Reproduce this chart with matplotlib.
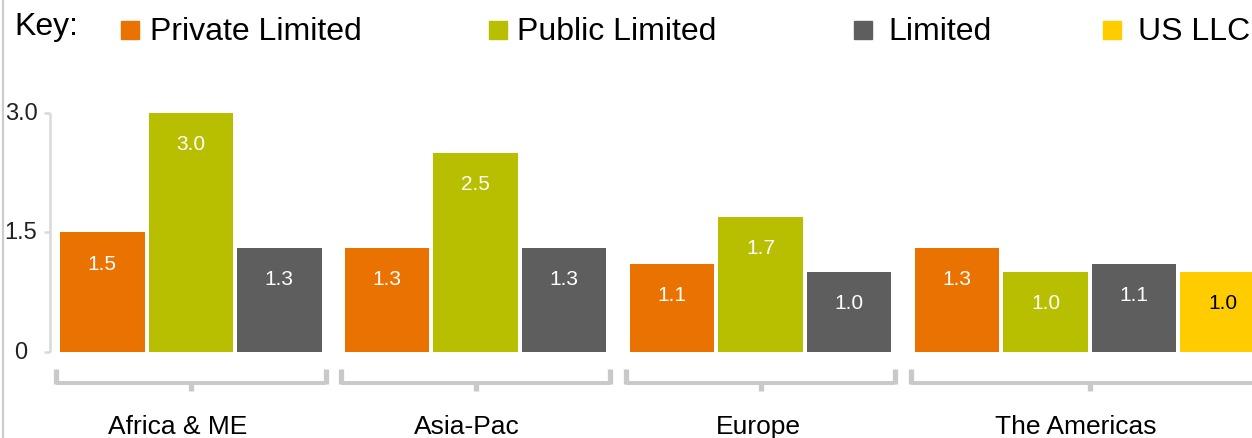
import matplotlib.pyplot as plt
from matplotlib.patches import Rectangle
from matplotlib.lines import Line2D

plt.rcParams['font.family'] = ['Liberation Sans', 'DejaVu Sans']

regions = ["Africa & ME", "Asia-Pac", "Europe", "The Americas"]
series = ["Private Limited", "Public Limited", "Limited", "US LLC"]
colors = ["#EA7200", "#B8BE00", "#5E5E5E", "#FFCC00"]
label_colors = ["white", "white", "white", "black"]

# one list per region, in the order of the series above
africa = [1.5, 3.0, 1.3]
asia_pac = [1.3, 2.5, 1.3]
europe = [1.1, 1.7, 1.0]
americas = [1.3, 1.0, 1.1, 1.0]
values = [africa, asia_pac, europe, americas]

yticks = [0, 1.5, 3.0]
ytick_labels = ["0", "1.5", "3.0"]

W, H = 1252, 439
fig = plt.figure(figsize=(W / 100, H / 100), dpi=100)
ax = fig.add_axes([0, 0, 1, 1])

# layout: one x unit is one bar slot
slot_px = 88.5
x0_px = 60
zero_px = 353
unit_px = 79.67
group_step = 3.22
bar_w = 0.955
label_shift_px = [-13, -9, -2.5, -14]  # region names sit a bit left of the bracket tick

ax.set_xlim(-x0_px / slot_px, (W - x0_px) / slot_px)
ax.set_ylim(-(H - zero_px) / unit_px, zero_px / unit_px)
ax.axis("off")


def xd(px):
    return (px - x0_px) / slot_px


def yd(px):
    return (zero_px - px) / unit_px


bracket_c = "#c9c9c9"
for g, vals in enumerate(values):
    lefts = [g * group_step + i for i in range(len(vals))]
    for i, v in enumerate(vals):
        ax.bar(lefts[i], v, width=bar_w, align="edge", color=colors[i], clip_on=True)
        ax.annotate(f"{v:.1f}", (lefts[i] + bar_w / 2, v), xytext=(0, -22),
                    textcoords="offset points", ha="center", va="center",
                    color=label_colors[i], fontsize=15)
    # bracket under each group
    l = lefts[0] - 0.045
    r = lefts[-1] + bar_w + 0.045
    c = (l + r) / 2
    ax.plot([l, r], [yd(383.5), yd(383.5)], color=bracket_c, lw=2.8, solid_capstyle="butt")
    ax.plot([l, l], [yd(370), yd(385)], color=bracket_c, lw=3.8, solid_capstyle="butt")
    ax.plot([r, r], [yd(370), yd(385)], color=bracket_c, lw=3.8, solid_capstyle="butt")
    ax.plot([c, c], [yd(385), yd(391.5)], color=bracket_c, lw=3.8, solid_capstyle="butt")
    ax.text(c + label_shift_px[g] / slot_px, yd(434), regions[g], ha="center",
            va="baseline", fontsize=19, color="black")

# y axis bracket
axis_c = "#d9d9d9"
ax.plot([xd(49.5), xd(49.5)], [0, 3.0], color=axis_c, lw=1.8, solid_capstyle="butt")
for t, lab in zip(yticks, ytick_labels):
    ax.plot([xd(44), xd(50)], [t, t], color=axis_c, lw=1.8, solid_capstyle="butt")
    ax.text(xd(21), t, lab, ha="center", va="center", fontsize=17, color="#222222")

# left border line
fig.add_artist(Line2D([3 / W, 3 / W], [0, 1], color="#cccccc", lw=1.6,
                      transform=fig.transFigure))

# legend ("Key")
fig.text(14 / W, 1 - 35 / H, "Key:", fontsize=23, va="baseline", ha="left")
sq_x = [121, 489, 854, 1103]
txt_x = [150, 517, 888, 1138]
for i, name in enumerate(series):
    fig.add_artist(Rectangle((sq_x[i] / W, 1 - 40 / H), 18 / W, 18 / H,
                             color=colors[i], transform=fig.transFigure))
    fig.text(txt_x[i] / W, 1 - 39.5 / H, name, fontsize=23, va="baseline", ha="left")

fig.savefig("out.png", dpi=100)
